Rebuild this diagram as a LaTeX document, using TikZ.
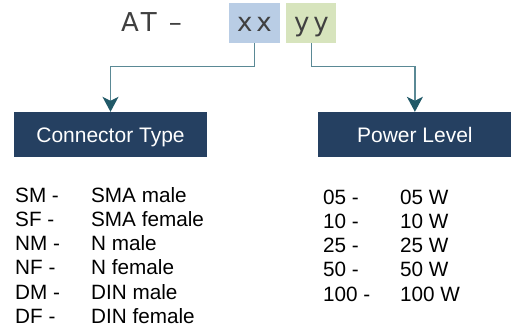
\documentclass[tikz,border=0pt]{standalone}
\usepackage{fontspec}
\setmainfont{Liberation Sans}
\newfontfamily\titlefont[LetterSpace=15]{DejaVu Sans}
\usetikzlibrary{positioning,arrows.meta}
\definecolor{titlegray}{HTML}{404040}
\definecolor{xxblue}{HTML}{B9CDE5}
\definecolor{yygreen}{HTML}{D7E4BD}
\definecolor{navy}{HTML}{254061}
\definecolor{linkteal}{HTML}{5A8995}
\definecolor{tipteal}{HTML}{215968}
\tikzset{
    titletext/.style={
      inner sep=0pt,
      text=titlegray,
      font=\titlefont\fontsize{26bp}{30bp}\selectfont},
    codebox/.style={
      titletext,
      rectangle,
      minimum width=51bp,
      minimum height=40bp,
      text height=17.4bp,
      text depth=0pt},
    headbox/.style={
      rectangle,
      fill=navy,
      inner sep=0pt,
      minimum width=193bp,
      minimum height=45bp,
      text height=15bp,
      text depth=0pt,
      text=white,
      font=\fontsize{21bp}{25bp}\selectfont},
    link/.style={draw=linkteal, line width=1.2bp,
      -{Stealth[length=15bp,width=16bp,inset=4bp,color=tipteal]}},
    listtext/.style={
      anchor=base west,
      inner sep=0pt,
      font=\fontsize{20.7bp}{24.26bp}\selectfont},
}

\begin{document}
\begin{tikzpicture}[x=1bp,y=-1bp]
    \useasboundingbox (0,0) rectangle (515,331);
    \node[titletext, anchor=base west] (prefix) at (121,31.7) {AT –};
    \node[codebox, fill=xxblue] (xx) at (254.5,23) {xx};
    \node[codebox, fill=yygreen, minimum width=50bp, right=6bp of xx] (yy) {yy};

    \node[headbox] (conntype) at (110.5,134.5) {Connector Type};
    \node[headbox, right=111bp of conntype] (powlevel) {Power Level};
    \draw[link] (xx.south) -- ++(0,23) -| (conntype.north);
    \draw[link] (yy.south) -- ++(0,23) -| (powlevel.north);

    \node[listtext] (connlist) at (15,202) {%
      \begin{tabular}[t]{@{}p{76bp}@{}l@{}}
        SM - & SMA male\\
        SF - & SMA female\\
        NM - & N male\\
        NF - & N female\\
        DM - & DIN male\\
        DF - & DIN female
      \end{tabular}};
    \node[listtext] (powlist) at (323,204) {%
      \begin{tabular}[t]{@{}p{77bp}@{}l@{}}
        05 - & 05 W\\
        10 - & 10 W\\
        25 - & 25 W\\
        50 - & 50 W\\
        100 - & 100 W
      \end{tabular}};
\end{tikzpicture}
\end{document}
